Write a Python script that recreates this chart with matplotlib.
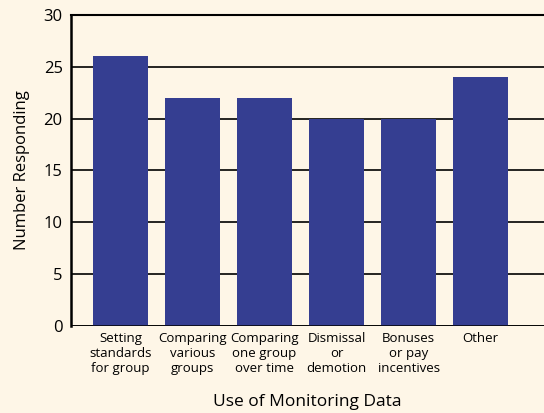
import matplotlib
matplotlib.use("Agg")
import matplotlib.pyplot as plt

categories = ["Setting\nstandards\nfor group", "Comparing\nvarious\ngroups",
              "Comparing\none group\nover time", "Dismissal\nor\ndemotion",
              "Bonuses\nor pay\nincentives", "Other"]
values = [26, 22, 22, 20, 20, 24]
yticks = [0, 5, 10, 15, 20, 25, 30]

plt.rcParams['font.family'] = ['Open Sans', 'DejaVu Sans']
bg = "#FEF6E7"

fig = plt.figure(figsize=(5.44, 4.13), dpi=100, facecolor=bg)
ax = fig.add_axes([0.1305, 0.2107, 0.8695, 0.753])
ax.set_facecolor(bg)

x = list(range(len(categories)))
ax.bar(x, values, width=0.76, color="#353E91", zorder=3)

ax.set_xlim(-0.6875, 5.88)
ax.set_ylim(0, 30)
ax.set_yticks(yticks)
ax.yaxis.grid(True, color="black", linewidth=1.2, zorder=1)
ax.set_xticks(x)
ax.set_xticklabels(categories, fontsize=9.5, linespacing=1.2)
ax.tick_params(axis="x", length=0, pad=4)
ax.tick_params(axis="y", length=0, labelsize=12, pad=6)

for s in ["right", "bottom"]:
    ax.spines[s].set_visible(False)
ax.spines["left"].set_linewidth(1.8)
ax.spines["top"].set_linewidth(1.5)
ax.axhline(0, color="black", linewidth=1.8, zorder=4)

ax.set_ylabel("Number Responding", fontsize=12, labelpad=10)
ax.set_xlabel("Use of Monitoring Data", fontsize=12.5, labelpad=14)

fig.savefig("out.png", dpi=100, facecolor=bg)
